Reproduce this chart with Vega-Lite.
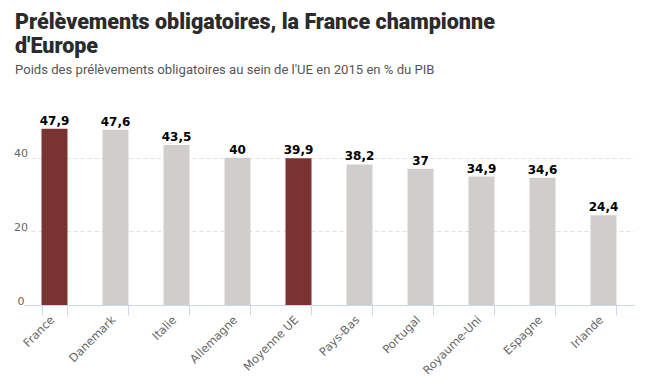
{
  "$schema": "https://vega.github.io/schema/vega-lite/v6.json",
  "width": 610,
  "height": 184,
  "autosize": "none",
  "padding": {"left": 24, "top": 121, "right": 12, "bottom": 80},
  "background": "white",
  "config": {
    "view": {"stroke": null},
    "locale": {"number": {"decimal": ",", "thousands": " ", "grouping": [3], "currency": ["", " €"]}}
  },
  "title": {
    "text": ["Prélèvements obligatoires, la France championne", "d'Europe"],
    "subtitle": "Poids des prélèvements obligatoires au sein de l'UE en 2015 en % du PIB",
    "anchor": "start",
    "frame": "group",
    "dx": -9,
    "offset": 38,
    "font": "Roboto",
    "fontWeight": 900,
    "fontSize": 21.5,
    "lineHeight": 24,
    "color": "#2b2b2b",
    "subtitleFont": "Roboto",
    "subtitleFontWeight": 400,
    "subtitleFontSize": 13.1,
    "subtitleColor": "#555555",
    "subtitlePadding": 6
  },
  "data": {
    "values": [
      {"pays": "France", "valeur": 47.9},
      {"pays": "Danemark", "valeur": 47.6},
      {"pays": "Italie", "valeur": 43.5},
      {"pays": "Allemagne", "valeur": 40},
      {"pays": "Moyenne UE", "valeur": 39.9},
      {"pays": "Pays-Bas", "valeur": 38.2},
      {"pays": "Portugal", "valeur": 37},
      {"pays": "Royaume-Uni", "valeur": 34.9},
      {"pays": "Espagne", "valeur": 34.6},
      {"pays": "Irlande", "valeur": 24.4}
    ]
  },
  "encoding": {
    "x": {
      "field": "pays",
      "type": "nominal",
      "sort": null,
      "scale": {"paddingInner": 0.574, "paddingOuter": 0.287},
      "axis": {
        "title": null,
        "labelAngle": -45,
        "labelAlign": "right",
        "labelBaseline": "middle",
        "labelFont": "DejaVu Sans",
        "labelFontSize": 11.5,
        "labelColor": "#666666",
        "labelPadding": 3,
        "labelOffset": -2,
        "domainColor": "#ccd6eb",
        "tickColor": "#ccd6eb",
        "tickSize": 10,
        "tickBand": "extent",
        "grid": false
      }
    },
    "y": {
      "field": "valeur",
      "type": "quantitative",
      "scale": {"domain": [0, 50], "nice": false},
      "axis": {
        "title": null,
        "values": [0, 20, 40],
        "domain": false,
        "ticks": false,
        "tickSize": 0,
        "labelAlign": "center",
        "labelBaseline": "alphabetic",
        "labelPadding": 3.5,
        "labelOffset": -1,
        "labelFont": "DejaVu Sans",
        "labelFontSize": 11,
        "labelColor": "#666666",
        "grid": true,
        "gridColor": "#e0e0e0",
        "gridDash": [4, 3]
      }
    }
  },
  "layer": [
    {
      "mark": {"type": "bar"},
      "encoding": {
        "color": {
          "condition": {"test": "datum.pays === 'France' || datum.pays === 'Moyenne UE'", "value": "#7b3232"},
          "value": "#d0cecc"
        }
      }
    },
    {
      "mark": {"type": "text", "dy": -4, "baseline": "alphabetic", "font": "DejaVu Sans", "fontWeight": "bold", "fontSize": 12, "color": "#000000"},
      "encoding": {
        "text": {"field": "valeur", "type": "quantitative", "format": ".1~f"}
      }
    }
  ]
}
